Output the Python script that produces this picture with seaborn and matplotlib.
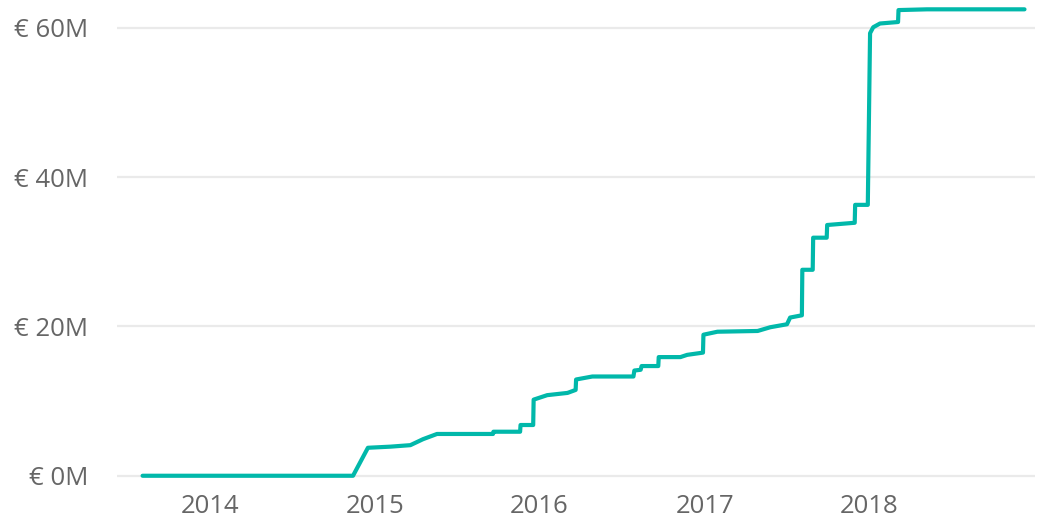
import seaborn as sns
import matplotlib.pyplot as plt
import matplotlib.dates as mdates
import pandas as pd

# cumulative amount (millions of euro)
dates = [
    "2013-08-05", "2014-11-14", "2014-12-17", "2015-02-05", "2015-03-21",
    "2015-04-18", "2015-05-19", "2015-09-20", "2015-09-21", "2015-11-19",
    "2015-11-20", "2015-12-18", "2015-12-19", "2016-01-18", "2016-03-03",
    "2016-03-21", "2016-03-22", "2016-04-27", "2016-07-27", "2016-07-29",
    "2016-08-12", "2016-08-14", "2016-09-20", "2016-09-21", "2016-11-08",
    "2016-11-23", "2016-12-28", "2016-12-29", "2017-01-29", "2017-04-28",
    "2017-05-26", "2017-07-02", "2017-07-09", "2017-08-04", "2017-08-05",
    "2017-08-28", "2017-08-29", "2017-09-28", "2017-09-29", "2017-11-29",
    "2017-11-30", "2017-12-28", "2018-01-02", "2018-01-09", "2018-01-24",
    "2018-03-05", "2018-03-06", "2018-05-08", "2018-12-10",
]
amount = [
    0, 0, 3.75, 3.9, 4.1,
    4.9, 5.6, 5.6, 5.9, 5.9,
    6.8, 6.8, 10.2, 10.8, 11.1,
    11.5, 12.9, 13.3, 13.3, 14.1,
    14.2, 14.7, 14.7, 15.9, 15.9,
    16.2, 16.5, 18.9, 19.3, 19.4,
    19.9, 20.3, 21.2, 21.5, 27.6,
    27.6, 31.9, 31.9, 33.6, 33.9,
    36.3, 36.3, 59.3, 60.1, 60.6,
    60.8, 62.4, 62.5, 62.5,
]

y_ticks = [0, 20, 40, 60]
y_labels = ["€ 0M", "€ 20M", "€ 40M", "€ 60M"]
x_years = [2014, 2015, 2016, 2017, 2018]

df = pd.DataFrame({"date": pd.to_datetime(dates), "amount": amount})

sns.set_theme(style="white")
plt.rcParams["font.family"] = ["Open Sans", "DejaVu Sans"]

fig = plt.figure(figsize=(10.38, 5.19), dpi=100)
ax = fig.add_axes([0.113, 0.056, 0.884, 0.944])

sns.lineplot(data=df, x="date", y="amount", estimator=None, sort=False,
             color="#01B8AA", linewidth=3, ax=ax)

ax.set_xlim(pd.Timestamp("2013-06-10"), pd.Timestamp("2019-01-02"))
ax.set_ylim(-1.9, 63.75)
ax.set_yticks(y_ticks)
ax.set_yticklabels(y_labels)
ax.set_xticks([pd.Timestamp(f"{y}-01-01") for y in x_years])
ax.xaxis.set_major_formatter(mdates.DateFormatter("%Y"))

ax.grid(axis="y", color="#eaeaea", linewidth=1.6)
ax.grid(axis="x", visible=False)
ax.set_axisbelow(True)
sns.despine(ax=ax, left=True, bottom=True)
ax.tick_params(axis="y", length=0, pad=21, labelsize=18.5, labelcolor="#666666")
ax.tick_params(axis="x", length=0, pad=3, labelsize=18.5, labelcolor="#666666")
ax.set_xlabel("")
ax.set_ylabel("")

fig.savefig("out.png", dpi=100)
